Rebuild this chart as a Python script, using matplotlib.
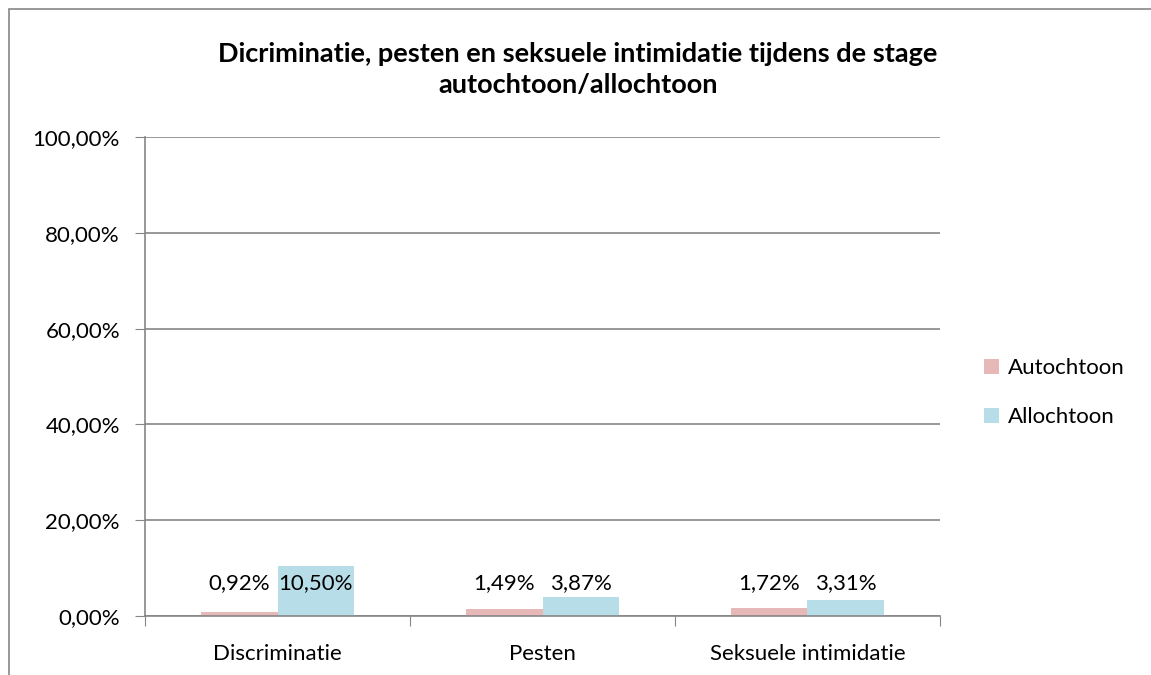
import matplotlib.pyplot as plt
import numpy as np
from matplotlib.patches import Rectangle

plt.rcParams['font.family'] = ['Lato', 'DejaVu Sans']

categories = ['Discriminatie', 'Pesten', 'Seksuele intimidatie']
autochtoon = [0.92, 1.49, 1.72]
allochtoon = [10.50, 3.87, 3.31]
series = ['Autochtoon', 'Allochtoon']
colors = ['#E6B9B8', '#B7DEE8']
yticks = [0, 20, 40, 60, 80, 100]

fs = 16
fig = plt.figure(figsize=(11.51, 6.75), dpi=100)
ax = fig.add_axes([145/1151, 1 - 616/675, 795/1151, 479/675])

# chart border
fig.patches.append(Rectangle((9/1151, -0.01), 1.2, 1 - 9/675 + 0.01, transform=fig.transFigure,
                             fill=False, edgecolor='#868686', linewidth=1.2))

x = np.arange(len(categories))
w = 0.287
b1 = ax.bar(x - w/2, autochtoon, w, color=colors[0], label=series[0])
b2 = ax.bar(x + w/2, allochtoon, w, color=colors[1], label=series[1])

def fmt(v):
    return f'{v:.2f}%'.replace('.', ',')

# Excel put all labels on one line, overlapping the tallest bar
for bars, vals in ((b1, autochtoon), (b2, allochtoon)):
    for bar, v in zip(bars, vals):
        ax.text(bar.get_x() + bar.get_width()/2, 6.9, fmt(v), ha='center', va='center',
                fontsize=fs, color='black')

ax.set_xlim(-0.5, 2.5)
ax.set_ylim(0, 100)
ax.set_yticks(yticks)
ax.set_yticklabels([f'{t:.2f}%'.replace('.', ',') for t in yticks], fontsize=fs)
ax.set_xticks([-0.5, 0.5, 1.5, 2.5])
ax.set_xticklabels([])
ax.set_xticks(x, minor=True)
ax.set_xticklabels(categories, minor=True, fontsize=fs)
ax.tick_params(axis='x', which='minor', length=0, pad=20)
ax.tick_params(axis='x', which='major', length=7, color='#868686', direction='out')
ax.tick_params(axis='y', length=7, color='#868686', direction='out', pad=11)
ax.yaxis.grid(True, color='#868686', linewidth=1.2)
ax.set_axisbelow(True)
for s in ['top', 'right']:
    ax.spines[s].set_visible(False)
for s in ['left', 'bottom']:
    ax.spines[s].set_color('#868686')
    ax.spines[s].set_linewidth(1.2)

fig.text(578/1151, 1 - 70/675, 'Dicriminatie, pesten en seksuele intimidatie tijdens de stage\nautochtoon/allochtoon',
         ha='center', va='center', fontsize=19.5, fontweight='bold', linespacing=1.35)

ax.legend(loc='center left', bbox_to_anchor=(1.03, 0.466), frameon=False, fontsize=fs,
          handlelength=0.7, handleheight=0.7, handletextpad=0.4, labelspacing=1.3)

fig.savefig('out.png', dpi=100)
